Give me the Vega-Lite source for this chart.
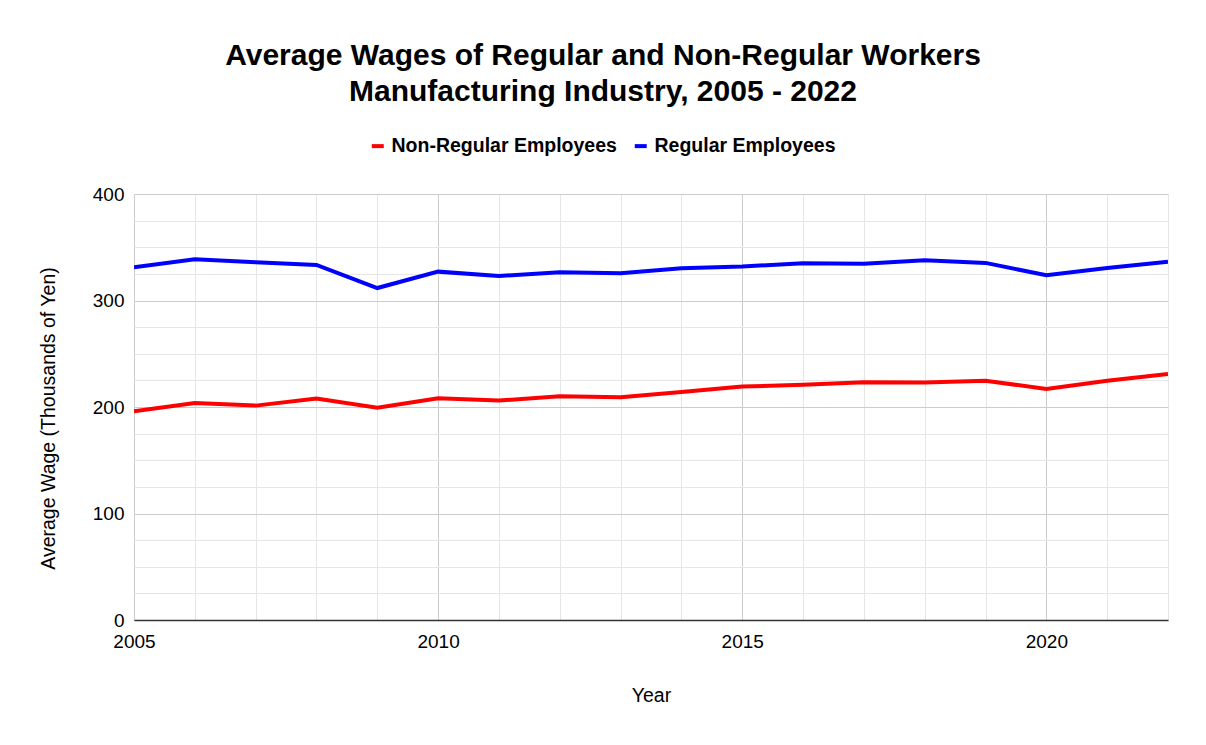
{
  "$schema": "https://vega.github.io/schema/vega-lite/v6.json",
  "width": 1034,
  "height": 426,
  "autosize": {"type": "none"},
  "padding": {"left": 134, "top": 194, "right": 38, "bottom": 125},
  "background": "white",
  "title": {
    "text": ["Average Wages of Regular and Non-Regular Workers", "Manufacturing Industry, 2005 - 2022"],
    "anchor": "middle",
    "dx": -48,
    "offset": 29,
    "fontSize": 30,
    "fontWeight": "bold",
    "font": "Liberation Sans",
    "lineHeight": 36,
    "color": "black"
  },
  "data": {
    "values": [
      {"Year": 2005, "Series": "Non-Regular Employees", "Wage": 195.9},
      {"Year": 2006, "Series": "Non-Regular Employees", "Wage": 203.8},
      {"Year": 2007, "Series": "Non-Regular Employees", "Wage": 201.3},
      {"Year": 2008, "Series": "Non-Regular Employees", "Wage": 207.9},
      {"Year": 2009, "Series": "Non-Regular Employees", "Wage": 199.4},
      {"Year": 2010, "Series": "Non-Regular Employees", "Wage": 208.2},
      {"Year": 2011, "Series": "Non-Regular Employees", "Wage": 206.0},
      {"Year": 2012, "Series": "Non-Regular Employees", "Wage": 210.1},
      {"Year": 2013, "Series": "Non-Regular Employees", "Wage": 209.1},
      {"Year": 2014, "Series": "Non-Regular Employees", "Wage": 214.1},
      {"Year": 2015, "Series": "Non-Regular Employees", "Wage": 219.2},
      {"Year": 2016, "Series": "Non-Regular Employees", "Wage": 220.8},
      {"Year": 2017, "Series": "Non-Regular Employees", "Wage": 223.3},
      {"Year": 2018, "Series": "Non-Regular Employees", "Wage": 223.0},
      {"Year": 2019, "Series": "Non-Regular Employees", "Wage": 224.6},
      {"Year": 2020, "Series": "Non-Regular Employees", "Wage": 217.0},
      {"Year": 2021, "Series": "Non-Regular Employees", "Wage": 224.6},
      {"Year": 2022, "Series": "Non-Regular Employees", "Wage": 230.9},
      {"Year": 2005, "Series": "Regular Employees", "Wage": 331.2},
      {"Year": 2006, "Series": "Regular Employees", "Wage": 338.8},
      {"Year": 2007, "Series": "Regular Employees", "Wage": 336.0},
      {"Year": 2008, "Series": "Regular Employees", "Wage": 333.4},
      {"Year": 2009, "Series": "Regular Employees", "Wage": 311.7},
      {"Year": 2010, "Series": "Regular Employees", "Wage": 327.1},
      {"Year": 2011, "Series": "Regular Employees", "Wage": 323.0},
      {"Year": 2012, "Series": "Regular Employees", "Wage": 326.5},
      {"Year": 2013, "Series": "Regular Employees", "Wage": 325.6},
      {"Year": 2014, "Series": "Regular Employees", "Wage": 330.3},
      {"Year": 2015, "Series": "Regular Employees", "Wage": 331.9},
      {"Year": 2016, "Series": "Regular Employees", "Wage": 335.0},
      {"Year": 2017, "Series": "Regular Employees", "Wage": 334.4},
      {"Year": 2018, "Series": "Regular Employees", "Wage": 337.9},
      {"Year": 2019, "Series": "Regular Employees", "Wage": 335.3},
      {"Year": 2020, "Series": "Regular Employees", "Wage": 323.7},
      {"Year": 2021, "Series": "Regular Employees", "Wage": 330.6},
      {"Year": 2022, "Series": "Regular Employees", "Wage": 336.3}
    ]
  },
  "mark": {"type": "line", "strokeWidth": 4, "clip": true},
  "encoding": {
    "x": {
      "field": "Year",
      "type": "quantitative",
      "scale": {"domain": [2005, 2022], "nice": false, "zero": false},
      "axis": {
        "values": [2005, 2006, 2007, 2008, 2009, 2010, 2011, 2012, 2013, 2014, 2015, 2016, 2017, 2018, 2019, 2020, 2021, 2022],
        "format": "d",
        "labelExpr": "datum.value % 5 === 0 ? datum.label : ''",
        "labelFlush": false,
        "gridColor": {"condition": {"test": "datum.value % 5 === 0", "value": "#cccccc"}, "value": "#e6e6e6"},
        "title": "Year",
        "titlePadding": 35
      }
    },
    "y": {
      "field": "Wage",
      "type": "quantitative",
      "scale": {"domain": [0, 400], "nice": false},
      "axis": {
        "values": [0, 25, 50, 75, 100, 125, 150, 175, 200, 225, 250, 275, 300, 325, 350, 375, 400],
        "labelExpr": "datum.value % 100 === 0 ? datum.label : ''",
        "gridColor": {"condition": {"test": "datum.value % 100 === 0", "value": "#cccccc"}, "value": "#e6e6e6"},
        "title": "Average Wage (Thousands of Yen)",
        "titleY": 224,
        "titleX": -76,
        "domain": false
      }
    },
    "color": {
      "field": "Series",
      "type": "nominal",
      "scale": {"domain": ["Non-Regular Employees", "Regular Employees"], "range": ["#ff0000", "#0000ff"]},
      "legend": {
        "title": null,
        "orient": "none",
        "direction": "horizontal",
        "legendX": 234,
        "legendY": -58,
        "symbolType": "stroke",
        "symbolStrokeWidth": 4,
        "symbolSize": 144,
        "labelFontSize": 19.5,
        "labelFontWeight": "bold",
        "labelFont": "Liberation Sans",
        "labelColor": "black",
        "labelLimit": 0,
        "columnPadding": 9,
        "labelOffset": 4
      }
    }
  },
  "config": {
    "view": {"stroke": null},
    "axis": {
      "labelFont": "Liberation Sans",
      "titleFont": "Liberation Sans",
      "labelFontSize": 19,
      "titleFontSize": 19.5,
      "titleFontWeight": "normal",
      "labelColor": "black",
      "titleColor": "black",
      "ticks": false,
      "labelPadding": 10,
      "gridOpacity": 1
    },
    "axisX": {"domainColor": "#333333", "domainWidth": 1.5, "labelPadding": 12}
  }
}
